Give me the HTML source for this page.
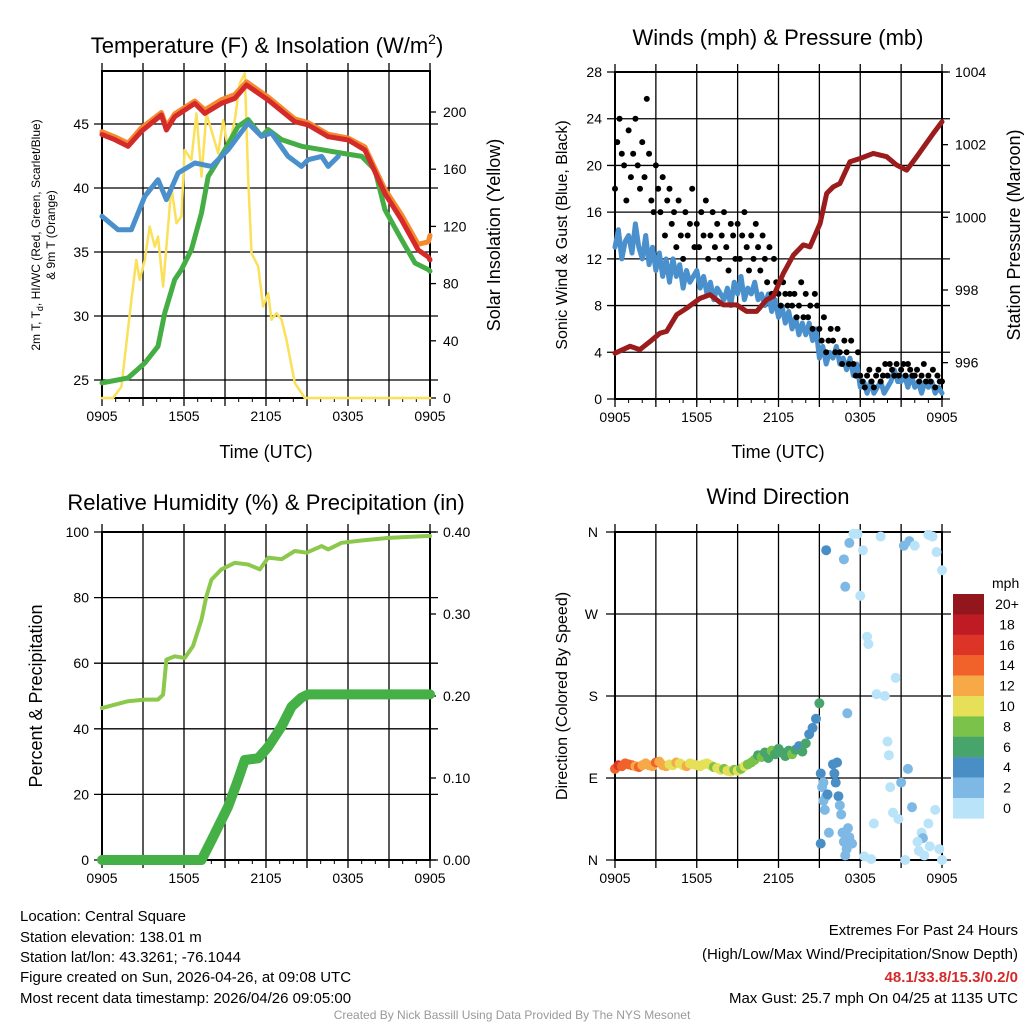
<!DOCTYPE html>
<html><head><meta charset="utf-8"><style>
body{margin:0;background:#fff;}
svg{display:block;font-family:"Liberation Sans",Arial,sans-serif;}
</style></head><body>
<svg id="fig" width="1024" height="1024" viewBox="0 0 1024 1024">
<g id="p1"></g>
<g id="p2"></g>
<g id="p3"></g>
<g id="p4"></g>
<g font-size="15" fill="#000">
<text x="20" y="921">Location: Central Square</text>
<text x="20" y="942">Station elevation: 138.01 m</text>
<text x="20" y="962">Station lat/lon: 43.3261; -76.1044</text>
<text x="20" y="982">Figure created on Sun, 2026-04-26, at 09:08 UTC</text>
<text x="20" y="1003">Most recent data timestamp: 2026/04/26 09:05:00</text>
</g>
<g font-size="15" text-anchor="end">
<text x="1018" y="935">Extremes For Past 24 Hours</text>
<text x="1018" y="959">(High/Low/Max Wind/Precipitation/Snow Depth)</text>
<text x="1018" y="982" fill="#d42a2a" font-weight="bold">48.1/33.8/15.3/0.2/0</text>
<text x="1018" y="1003">Max Gust: 25.7 mph On 04/25 at 1135 UTC</text>
</g>
<text x="512" y="1019" font-size="12" fill="#999" text-anchor="middle">Created By Nick Bassill Using Data Provided By The NYS Mesonet</text>
</svg>
<script>
// ---- data ----
const xTickLabels = ["0905","1505","2105","0305","0905"];
const redHours = [0,0.93,1.9,2.88,4.35,4.71,5.32,6.79,7.52,8.74,9.72,10.57,12.16,14.11,15.09,16.55,18.02,19.24,20.7,21.92,23.14,23.88,24];
const tempRed = [44.17,43.78,43.26,44.43,45.7,44.53,45.57,46.61,45.83,46.61,47.0,48.05,46.87,45.18,44.92,44.01,43.75,42.97,39.58,37.5,35.16,34.6,34.38];
const tempOrange = [44.4,44.0,43.5,44.7,45.9,44.8,45.8,46.8,46.1,46.9,47.3,48.3,47.1,45.4,45.1,44.2,43.9,43.2,39.9,37.9,35.6,35.8,36.3];
const blueHours = [0,1.17,2.15,3.13,4.1,4.71,5.57,6.79,8.01,9.23,10.69,11.67,12.4,13.62,14.6,15.09,16.07,16.55,17.29];
const tempBlue = [37.79,36.74,36.74,39.35,40.65,39.09,41.17,41.95,41.69,42.99,45.08,44.04,44.3,42.47,41.69,42.21,42.47,41.69,42.47];
const greenHours = [0,1.9,3.13,4.1,4.59,5.32,5.81,6.54,7.28,7.77,8.99,9.96,10.69,11.67,12.16,13.14,14.6,16.07,17.53,19.0,19.97,20.7,21.92,22.9,23.88,24];
const tempGreen = [24.77,25.16,26.33,27.63,30.23,32.84,33.62,35.18,38.05,40.91,42.99,44.82,45.34,44.04,44.56,43.78,43.26,42.99,42.73,42.47,41.43,38.31,35.96,34.14,33.62,33.5];
const solarHours = [0,0.81,1.42,2.15,2.51,2.76,3.13,3.49,3.86,4.1,4.47,5.08,5.45,5.81,6.05,6.54,6.91,7.28,7.64,8.5,8.87,9.23,9.72,10.08,10.45,10.69,10.94,11.43,11.79,12.16,12.4,12.77,13.14,13.5,14.11,14.84,24];
const solar = [0,0,8,68.7,96.6,82.6,96.6,119.9,105.9,112.9,78,147.8,122.2,126.9,173.4,166.5,199,154.8,199,171.1,194.4,173.4,194.4,220,227,154.8,101.3,92,64,73.3,54.7,59.4,54.7,40.7,10.5,0,0];
const windSpeed = [13,14.5,12,13.5, 14,12.5,15,13, 12,14,11.5,13, 11,12.5,10.5,12, 10,12,10.5,11.5, 9.5,11,10,10.5, 11,9.5,10.5,9, 10,8.5,9.5,9, 8.5,9.5,8,10, 9,10.5,8.5,9.5, 9,10,8.5,9, 8,9,7.5,8.5, 7,8,6.5,7.5, 6,7,5.5,6.5, 5.5,6.5,5,6, 3.5,4.5,3,4, 3.5,4.5,3,3.5, 2.5,3.5,2,3, 1,1.5,0.5,1.5, 0.5,1,1.5,0.5, 1,1.5,2.5,1.5, 1.5,2,1,2, 1,1.5,0.5,1.5, 1,1.5,0.5,1, 0.5];
const windGust = [18,22,24,21,20,17, 23,19,21,24,20,18, 22,19,25.7,21,17,16, 20,18,16,19,14,17, 18,15,16,13,17,14, 12,16,14,15,18,13, 15,13,16,14,17,12, 14,16,13,15,12,14, 16,13,11,15,14,12, 15,12,14,16,13,11, 14,12,15,13,11,14, 12,10,13,9,12,10, 9,8,10,9,8,9, 8,9,7,8,10,7, 9,7,8,6,9,8, 6,5,7,4,5,6, 5,4,6,4,3,5, 4,3,5,3,2,4, 2,1.5,1,2,2.5,1.5, 1,2,2.5,1.5,2,3, 2,3,2.5,2,3,2, 2.5,3,2,3,2.5,2, 2,2.5,1.5,2,3,1.5, 2,1.5,2.5,1,2,1.5, 1.5];
const pressHours = [0,1.1,1.83,2.57,3.3,3.79,4.53,5.26,6.24,6.97,7.95,8.93,9.66,10.4,11.13,11.62,12.36,13.09,13.82,14.31,15.05,15.54,16.02,16.51,17.25,17.98,18.96,19.94,20.67,21.41,22.14,23.36,24];
const pressure = [996.26,996.45,996.36,996.58,996.81,996.86,997.32,997.5,997.77,997.87,997.59,997.59,997.41,997.41,997.73,997.82,998.46,998.96,999.24,999.19,999.83,1000.66,1000.84,1000.93,1001.53,1001.62,1001.76,1001.67,1001.44,1001.3,1001.67,1002.31,1002.63];
const rhHours = [0,1.9,3.13,4.1,4.47,4.71,5.32,6.05,6.66,7.28,7.64,8.01,8.74,9.72,10.69,11.55,12.16,13.14,14.11,14.97,16.07,16.55,17.53,19.0,20.95,24];
const rh = [46.3,48.4,48.9,48.9,50.4,61.1,62.1,61.6,65.2,73.3,80.4,85.5,88.6,90.6,90.1,88.6,92.2,91.7,94.2,93.7,95.7,94.7,96.7,97.4,98.2,98.8];
const precipHours = [0,7.28,8.01,9.23,9.96,10.45,11.43,12.16,13.14,13.87,14.6,15.09,24];
const precip = [0,0,0.024,0.065,0.098,0.122,0.124,0.138,0.163,0.187,0.198,0.202,0.202];
// dense east-wind period, every 15 min from 0 to 15 h
const dirDegA = [100,104,103,106,105,104,103,102,104, 106,104,103,107,108,104,103,105, 104,107,106,104,103,106,105,104, 103,105,106,104,102,101,99,100, 98,97,99,98,100,103,105,107, 110,115,113,118,112,120,116,122, 118,114,120,116,121,125,119,128, 138,145,155,172];
const dirSpdA = [15,16,15,14,15,14,13,14,13, 12,13,12,14,12,13,12,11, 11,12,10,11,12,11,10,11, 10,11,10,10,9,10,10,9, 10,10,9,10,9,10,8,9, 8,7,8,7,6,8,7,6, 7,6,7,8,6,5,7,6, 5,4,5,6];
// scattered period
const dirHoursB = [15.1,15.2,15.3,15.4,15.5,15.6,15.1,15.3,15.7,16.0,16.1,16.2,16.3,16.4,16.5,16.6,16.7,16.8,16.9,17.0,17.1,17.2,17.4,15.5,16.8,16.9,17.2,17.05,17.5,17.8,18,18.2,18.3,18.5,18.6,18.8,19,19.2,19.5,19.8,20,20.1,20.2,20.4,20.6,20.8,21,21.2,21.3,21.5,21.6,21.8,22,22.3,22.5,22.7,23,23.1,23,23.3,23.5,23.6,23.8,24,24,22.6,22.2];
const dirDegB = [95,80,65,55,70,72,18,85,30,105,95,85,107,70,60,50,30,20,5,12,35,25,18,340,330,300,348,161,358,358,290,340,4,245,237,1,40,182,355,180,130,115,80,52,200,45,85,345,0,100,350,58,345,10,30,5,357,15,40,355,55,338,12,318,0,24,20];
const dirSpdB = [4,3,3,2,3,4,5,2,3,5,4,4,5,4,3,2,3,2,2,3,2,3,2,4,3,2,3,3,1,1,1,1,1,1,1,1,1,1,1,1,1,1,1,1,1,1,2,3,1,2,3,2,1,1,1,1,1,1,1,1,1,1,1,1,1,2,1];
const cbLabels = ["20+","18","16","14","12","10","8","6","4","2","0"];
const cbColors = ["#92161b","#be1b25","#dc3528","#f06229","#f7a947","#e6e059","#7bc24a","#47a56c","#4a8ec6","#7db9e4","#b9e3f8"];

const NS="http://www.w3.org/2000/svg";
function mk(parent,tag,attrs){const e=document.createElementNS(NS,tag);for(const k in attrs)e.setAttribute(k,attrs[k]);parent.appendChild(e);return e;}
function txt(parent,x,y,s,attrs){const e=mk(parent,"text",Object.assign({x:x,y:y},attrs||{}));e.textContent=s;return e;}
function scale(d0,d1,r0,r1){return v=>r0+(v-d0)*(r1-r0)/(d1-d0);}
function idxHours(n){return Array.from({length:n},(_,i)=>i*24/(n-1));}

function frame(g,L,T,R,B,ticks,yFn,fmt){
  const xs=scale(0,24,L,R);
  for(let h=0;h<=24;h+=3){const gl=mk(g,"line",{x1:xs(h),x2:xs(h),y1:T-8,y2:B+8,stroke:"#000","stroke-width":1.3});
    
    }
  for(let h=0;h<=24;h+=1){mk(g,"line",{x1:xs(h),x2:xs(h),y1:B,y2:B+4,stroke:"#000","stroke-width":1});}
  ticks.forEach(v=>{const y=yFn(v);const gl=mk(g,"line",{x1:L-8,x2:R+8,y1:y,y2:y,stroke:"#000","stroke-width":1.3});
    
    
    const t=txt(g,L-13,y+5,fmt(v),{"font-size":14,"text-anchor":"end"});
    
    });
  const fr=mk(g,"rect",{x:L,y:T,width:R-L,height:B-T,fill:"none",stroke:"#000","stroke-width":2});
  
  
  xTickLabels.forEach((s,i)=>{const t=txt(g,xs(i*6),B+23,s,{"font-size":14,"text-anchor":"middle"});
    
    });
  return xs;
}
function path(g,xsArr,ysArr,xs,ys,color,w,name){
  const d=xsArr.map((t,i)=>(i?"L":"M")+xs(t).toFixed(1)+","+ys(ysArr[i]).toFixed(1)).join("");
  const p=mk(g,"path",{d:d,fill:"none",stroke:color,"stroke-width":w,"stroke-linejoin":"round","stroke-linecap":"round"});
  
  
  return p;
}
function rightTicks(g,R,vals,yFn,fmt){vals.forEach(v=>{const y=yFn(v);mk(g,"line",{x1:R,x2:R+6,y1:y,y2:y,stroke:"#000","stroke-width":1.3});
  const t=txt(g,R+13,y+5,fmt(v),{"font-size":14});
  
  });}
function rot(g,x,y,s,size,name){const t=txt(g,x,y,s,{"font-size":size,"text-anchor":"middle",transform:`rotate(-90 ${x} ${y})`});
  
  return t;}

// ---- panel 1 ----
(function(){
 const g=document.getElementById("p1");const L=102,T=71,R=430,B=398;
 const ys=scale(45,25,124,380);const ysR=scale(0,200,398,112);
 const xs=frame(g,L,T,R,B,[25,30,35,40,45],ys,v=>v);
 rightTicks(g,R,[0,40,80,120,160,200],ysR,v=>v);
 path(g,solarHours,solar,xs,ysR,"#fbe05a",2.5,"solar-insolation-line");
 path(g,greenHours,tempGreen,xs,ys,"#44ae45",5,"green-temperature-line");
 path(g,blueHours,tempBlue,xs,ys,"#4a90cc",5,"blue-temperature-line");
 path(g,redHours,tempOrange,xs,ys,"#f5892e",5,"orange-9m-temperature-line");
 path(g,redHours,tempRed,xs,ys,"#d42a2a",5,"red-2m-temperature-line");
 const t=txt(g,267,53,"",{"font-size":22,"text-anchor":"middle"});
 t.innerHTML='Temperature (F) &amp; Insolation (W/m<tspan font-size="14" dy="-9">2</tspan><tspan dy="9">)</tspan>';
 
 
 const xl=txt(g,266,458,"Time (UTC)",{"font-size":18,"text-anchor":"middle"});
 
 
 const a=rot(g,40,235,"",12,"left-axis-title");
 a.innerHTML='2m T, T<tspan font-size="9" dy="3">d</tspan><tspan dy="-3">, HI/WC (Red, Green, Scarlet/Blue)</tspan>';
 rot(g,55,235,"& 9m T (Orange)",12,"left-axis-title-2");
 rot(g,500,235,"Solar Insolation (Yellow)",18,"right-axis-title");
})();

// ---- panel 2 ----
(function(){
 const g=document.getElementById("p2");const L=615,T=72,R=942,B=399;
 const ys=scale(0,28,399,72);const ysR=scale(995,1004,399,72);
 const xs=frame(g,L,T,R,B,[0,4,8,12,16,20,24,28],ys,v=>v);
 rightTicks(g,R,[996,998,1000,1002,1004],ysR,v=>v);
 path(g,idxHours(windSpeed.length),windSpeed,xs,ys,"#4a90cc",5,"sonic-wind-line");
 const gh=idxHours(windGust.length);
 windGust.forEach((v,i)=>{const c=mk(g,"circle",{cx:xs(gh[i]),cy:ys(v),r:3,fill:"#000"});
   
   });
 path(g,pressHours,pressure,xs,ysR,"#9b1c1c",5,"pressure-line");
 const t=txt(g,778,45,"Winds (mph) & Pressure (mb)",{"font-size":22,"text-anchor":"middle"});
 
 
 const xl=txt(g,778,458,"Time (UTC)",{"font-size":18,"text-anchor":"middle"});
 
 
 rot(g,567,235,"Sonic Wind & Gust (Blue, Black)",16,"left-axis-title");
 rot(g,1020,235,"Station Pressure (Maroon)",18,"right-axis-title");
})();

// ---- panel 3 ----
(function(){
 const g=document.getElementById("p3");const L=102,T=532,R=430,B=860;
 const ys=scale(0,100,860,532);const ysR=scale(0,0.4,860,532);
 const xs=frame(g,L,T,R,B,[0,20,40,60,80,100],ys,v=>v);
 rightTicks(g,R,[0,0.1,0.2,0.3,0.4],ysR,v=>v.toFixed(2));
 path(g,precipHours,precip,xs,ysR,"#44b046",10,"precipitation-line");
 path(g,rhHours,rh,xs,ys,"#8cc84b",4,"relative-humidity-line");
 const t=txt(g,266,510,"Relative Humidity (%) & Precipitation (in)",{"font-size":22,"text-anchor":"middle"});
 
 
 rot(g,42,696,"Percent & Precipitation",18,"left-axis-title");
})();

// ---- panel 4 ----
(function(){
 const g=document.getElementById("p4");const L=615,T=532,R=942,B=860;
 const ys=scale(0,360,860,532);
 const xs=scale(0,24,L,R);
 for(let h=0;h<=24;h+=3){mk(g,"line",{x1:xs(h),x2:xs(h),y1:T-8,y2:B+8,stroke:"#000","stroke-width":1.3});}
 const dl=["N","E","S","W","N"];
 [0,90,180,270,360].forEach((v,i)=>{const y=ys(v);mk(g,"line",{x1:L-9,x2:R+9,y1:y,y2:y,stroke:"#000","stroke-width":1.3});
   const t=txt(g,598,y+5,dl[i],{"font-size":14,"text-anchor":"end"});
   
   });
 mk(g,"rect",{x:L,y:T,width:R-L,height:B-T,fill:"none",stroke:"#000","stroke-width":2});
 xTickLabels.forEach((s,i)=>{const t=txt(g,xs(i*6),B+23,s,{"font-size":14,"text-anchor":"middle"});
   
   });
 function dot(h,deg,spd){const bin=Math.min(10,Math.floor(spd/2));
   const c=mk(g,"circle",{cx:xs(h),cy:ys(deg),r:5,fill:cbColors[10-bin]});
   
   }
 dirDegA.forEach((d,i)=>dot(i*0.25,d,dirSpdA[i]));
 dirHoursB.forEach((h,i)=>dot(h,dirDegB[i],dirSpdB[i]));
 const t=txt(g,778,504,"Wind Direction",{"font-size":22,"text-anchor":"middle"});
 
 
 rot(g,567,696,"Direction (Colored By Speed)",16,"left-axis-title");
 const u=txt(g,992,588,"mph",{"font-size":14});
 
 
 cbColors.forEach((c,i)=>{const r=mk(g,"rect",{x:953,y:594+i*20.4,width:31,height:20.6,fill:c});
   
   
   const l=txt(g,1007,594+i*20.4+15,cbLabels[i],{"font-size":14,"text-anchor":"middle"});
   
   });
})();
</script>
</body></html>
